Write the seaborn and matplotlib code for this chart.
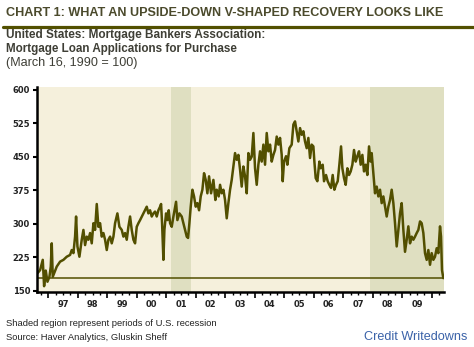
import numpy as np
import pandas as pd
import matplotlib
matplotlib.use("Agg")
import matplotlib.pyplot as plt
import seaborn as sns
from matplotlib.ticker import FixedLocator, NullFormatter, FuncFormatter
from matplotlib.lines import Line2D
from matplotlib import font_manager as fm

# ---------------- data ----------------
years = [
    1996.630, 1996.720, 1996.810, 1996.856, 1996.912, 1996.969, 1997.036, 1997.082,
    1997.115, 1997.149, 1997.195, 1997.285, 1997.398, 1997.511, 1997.624, 1997.737,
    1997.793, 1997.850, 1997.906, 1997.940, 1997.986, 1998.053, 1998.132, 1998.189,
    1998.245, 1998.302, 1998.358, 1998.415, 1998.471, 1998.528, 1998.584, 1998.641,
    1998.697, 1998.754, 1998.810, 1998.867, 1998.923, 1998.980, 1999.036, 1999.093,
    1999.149, 1999.206, 1999.262, 1999.341, 1999.409, 1999.488, 1999.545, 1999.601,
    1999.658, 1999.714, 1999.771, 1999.827, 1999.884, 1999.940, 1999.997, 2000.053,
    2000.110, 2000.223, 2000.279, 2000.336, 2000.392, 2000.449, 2000.505, 2000.562,
    2000.618, 2000.675, 2000.731, 2000.788, 2000.822, 2000.856, 2000.901, 2000.935,
    2000.991, 2001.036, 2001.082, 2001.127, 2001.183, 2001.240, 2001.330, 2001.375,
    2001.443, 2001.522, 2001.579, 2001.635, 2001.692, 2001.737, 2001.782, 2001.827,
    2001.884, 2001.940, 2001.997, 2002.053, 2002.110, 2002.166, 2002.223, 2002.279,
    2002.336, 2002.392, 2002.449, 2002.517, 2002.596, 2002.663, 2002.709, 2002.776,
    2002.822, 2002.878, 2002.935, 2002.991, 2003.048, 2003.104, 2003.161, 2003.217,
    2003.274, 2003.330, 2003.387, 2003.443, 2003.500, 2003.556, 2003.613, 2003.669,
    2003.726, 2003.782, 2003.839, 2003.895, 2003.952, 2004.008, 2004.065, 2004.121,
    2004.178, 2004.234, 2004.291, 2004.347, 2004.404, 2004.460, 2004.517, 2004.573,
    2004.630, 2004.686, 2004.743, 2004.799, 2004.856, 2004.912, 2004.946, 2004.991,
    2005.059, 2005.104, 2005.172, 2005.251, 2005.308, 2005.364, 2005.421, 2005.477,
    2005.534, 2005.590, 2005.647, 2005.703, 2005.760, 2005.816, 2005.873, 2005.929,
    2005.986, 2006.020, 2006.065, 2006.121, 2006.189, 2006.234, 2006.302, 2006.347,
    2006.415, 2006.472, 2006.528, 2006.585, 2006.641, 2006.698, 2006.754, 2006.811,
    2006.867, 2006.924, 2006.969, 2007.025, 2007.082, 2007.138, 2007.195, 2007.251,
    2007.308, 2007.364, 2007.421, 2007.477, 2007.534, 2007.590, 2007.647, 2007.703,
    2007.760, 2007.816, 2007.873, 2007.929, 2007.963, 2008.020, 2008.076, 2008.133,
    2008.189, 2008.246, 2008.302, 2008.359, 2008.415, 2008.472, 2008.528, 2008.585,
    2008.641, 2008.698, 2008.754, 2008.811, 2008.867, 2008.924, 2008.980, 2009.037,
    2009.093, 2009.150, 2009.206, 2009.263, 2009.319, 2009.376, 2009.432, 2009.489,
    2009.545, 2009.602, 2009.658, 2009.715, 2009.771, 2009.828, 2009.884, 2009.941,
    2009.997, 2010.054, 2010.110, 2010.167, 2010.223, 2010.280, 2010.314, 2010.347,
    2010.392,
]
values = [
    189, 196, 219, 160, 195, 170, 181, 204,
    256, 181, 189, 204, 215, 219, 226, 230,
    241, 234, 271, 316, 249, 226, 264, 286,
    252, 271, 264, 279, 256, 301, 286, 344,
    293, 301, 271, 279, 264, 241, 264, 271,
    256, 271, 301, 323, 293, 286, 271, 279,
    264, 293, 316, 286, 264, 256, 293, 301,
    308, 323, 330, 338, 323, 330, 316, 323,
    327, 316, 330, 338, 344, 301, 219, 286,
    323, 308, 330, 301, 293, 316, 349, 308,
    323, 316, 301, 286, 271, 268, 301, 338,
    376, 361, 338, 346, 330, 361, 376, 413,
    398, 368, 406, 368, 398, 353, 376, 361,
    387, 368, 376, 353, 312, 346, 376, 398,
    428, 458, 443, 454, 421, 383, 428, 406,
    368, 458, 443, 450, 503, 424, 387, 432,
    462, 439, 477, 432, 503, 462, 477, 439,
    454, 465, 495, 477, 492, 454, 395, 439,
    451, 432, 469, 477, 522, 529, 507, 484,
    514, 499, 507, 484, 469, 492, 447, 477,
    473, 439, 402, 395, 439, 424, 432, 395,
    409, 395, 387, 380, 409, 376, 387, 395,
    432, 473, 424, 402, 387, 424, 409, 417,
    432, 465, 439, 451, 462, 432, 454, 417,
    432, 409, 473, 439, 458, 413, 368, 383,
    361, 376, 346, 361, 338, 316, 338, 353,
    376, 346, 301, 249, 286, 323, 346, 286,
    237, 264, 294, 256, 271, 264, 271, 279,
    286, 305, 301, 279, 234, 219, 241, 208,
    234, 219, 226, 245, 234, 294, 271, 196,
    178,
]
rec_start = [2001.17, 2007.92]
rec_end = [2001.83, 2010.415]
y_ticks = [150, 225, 300, 375, 450, 525, 600]
label_years = list(range(1997, 2010))

title = "CHART 1: WHAT AN UPSIDE-DOWN V-SHAPED RECOVERY LOOKS LIKE"
sub1 = "United States: Mortgage Bankers Association:"
sub2 = "Mortgage Loan Applications for Purchase"
sub3 = "(March 16, 1990 = 100)"
foot1 = "Shaded region represent periods of U.S. recession"
foot2 = "Source: Haver Analytics, Gluskin Sheff"
credit = "Credit Writedowns"

# ---------------- style ----------------
LINE = "#524f00"
BG = "#F5F0DC"
SHADE = "#DFDFC1"

sns.set_theme(style="ticks")
plt.rcParams['font.family'] = ['Liberation Sans', 'DejaVu Sans']

installed = {f.name for f in fm.fontManager.ttflist}
title_family = ['Liberation Sans Narrow', 'Liberation Sans'] if 'Liberation Sans Narrow' in installed \
    else ['Liberation Sans', 'DejaVu Sans']

W, H = 474, 347
fig = plt.figure(figsize=(W / 100, H / 100), dpi=100)
fig.patch.set_facecolor("white")

ax = fig.add_axes([37 / W, (H - 292) / H, (444 - 37) / W, (292 - 87) / H])
ax.set_facecolor(BG)

for s, e in zip(rec_start, rec_end):
    ax.axvspan(s, e, color=SHADE, lw=0, zorder=0.5)

df = pd.DataFrame({"year": years, "value": values})
sns.lineplot(data=df, x="year", y="value", ax=ax, color=LINE, lw=1.8, zorder=3)
ax.axhline(values[-1], color=LINE, lw=1.1, zorder=2)

ax.set_xlim(1996.615, 2010.415)
ax.set_ylim(147, 606)
ax.set_xlabel("")
ax.set_ylabel("")

for side in ("top", "right"):
    ax.spines[side].set_visible(False)
for side in ("left", "bottom"):
    ax.spines[side].set_color("black")
    ax.spines[side].set_linewidth(1.8)
    ax.spines[side].set_zorder(5)

ax.yaxis.set_major_locator(FixedLocator(y_ticks))
ax.tick_params(axis="y", direction="out", length=3, width=1.5, pad=2,
               labelsize=6, labelcolor="#222222", color="black")
for lab in ax.get_yticklabels():
    lab.set_family("DejaVu Sans")
    lab.set_fontweight("bold")

ax.xaxis.set_major_locator(FixedLocator(list(range(1997, 2011))))
ax.xaxis.set_major_formatter(NullFormatter())
quarters = [y + q for y in range(1996, 2011) for q in (0.25, 0.5, 0.75)]
ax.xaxis.set_minor_locator(FixedLocator(quarters))

def xfmt(x, pos):
    yr = int(np.floor(x))
    if abs(x - yr - 0.5) < 1e-6 and yr in label_years:
        return f"{yr % 100:02d}"
    return ""

ax.xaxis.set_minor_formatter(FuncFormatter(xfmt))
ax.tick_params(axis="x", which="major", direction="out", length=4, width=1.2, color="black")
ax.tick_params(axis="x", which="minor", direction="out", length=2.5, width=1.0,
               pad=3.5, labelsize=6, labelcolor="#222222", color="black")
for lab in ax.get_xticklabels(minor=True):
    lab.set_family("DejaVu Sans")
    lab.set_fontweight("bold")

# ---------------- texts ----------------
def ftext(x, y, s, **kw):
    return fig.text(x / W, 1 - y / H, s, va="center", **kw)

t_title = ftext(6, 13, title, fontsize=10, fontweight="bold", color="#4b4a2c",
                family=title_family)
t_s1 = ftext(6, 35, sub1, fontsize=8, fontweight="bold", color="#3f3f36")
t_s2 = ftext(6, 49, sub2, fontsize=8, fontweight="bold", color="#3f3f36")
t_s3 = ftext(6, 63, sub3, fontsize=8, color="#3f3f36")
t_f1 = ftext(6, 323, foot1, fontsize=6.5, color="#222222")
t_f2 = ftext(6, 337, foot2, fontsize=6.5, color="#222222")
t_cr = fig.text(467 / W, 1 - 337 / H, credit, va="center", ha="right",
                fontsize=8.5, color="#3a62a8")

fig.add_artist(Line2D([3 / W, 1.0], [1 - 26.5 / H] * 2, transform=fig.transFigure,
                      color="#525000", lw=2.3))

fig.canvas.draw()
r = fig.canvas.get_renderer()
for t, target in ((t_title, 436), (t_s1, 260), (t_s2, 232), (t_s3, 132),
                  (t_f1, 210), (t_f2, 161), (t_cr, 102)):
    w = t.get_window_extent(r).width
    t.set_fontsize(t.get_fontsize() * target / w)

fig.savefig("out.png", dpi=100, facecolor="white")
